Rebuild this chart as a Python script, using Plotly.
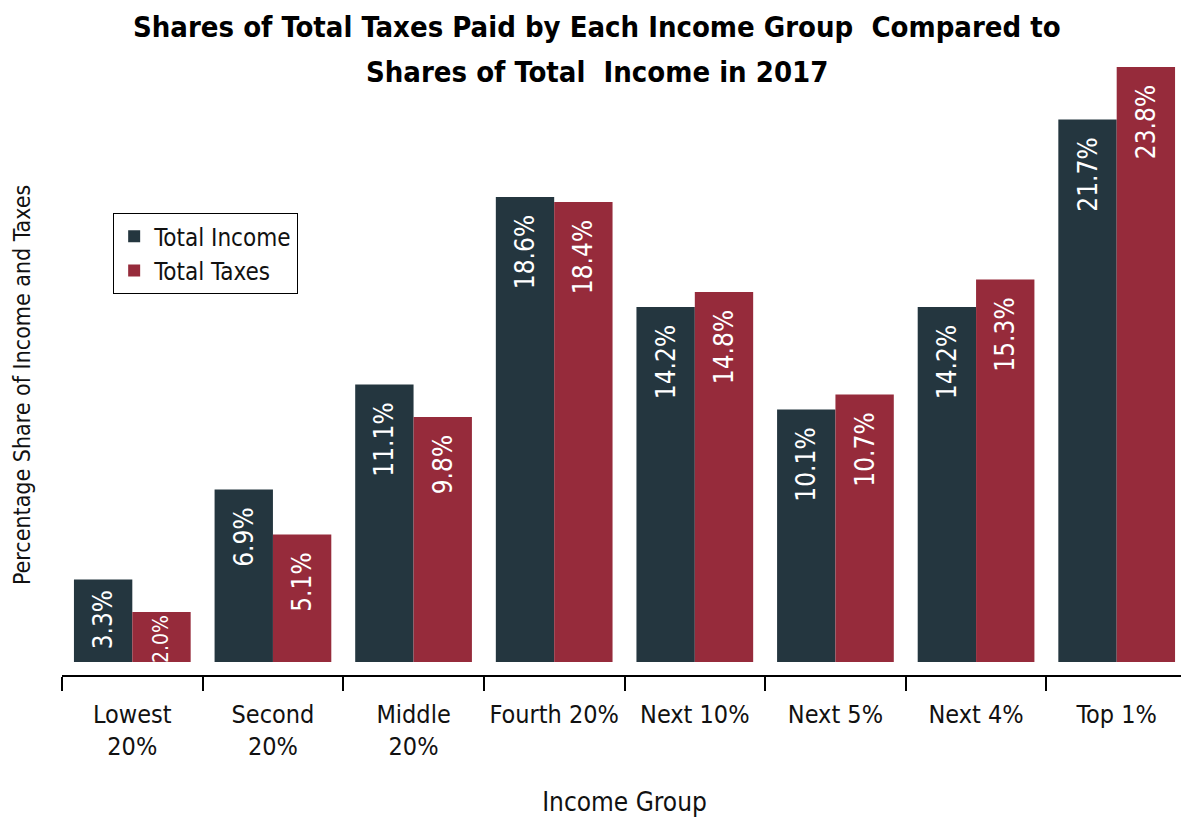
import plotly.graph_objects as go

# income groups and shares (%)
groups = ["Lowest<br>20%", "Second<br>20%", "Middle<br>20%", "Fourth 20%",
          "Next 10%", "Next 5%", "Next 4%", "Top 1%"]
income = [3.3, 6.9, 11.1, 18.6, 14.2, 10.1, 14.2, 21.7]
taxes = [2.0, 5.1, 9.8, 18.4, 14.8, 10.7, 15.3, 23.8]

font_main = "DejaVu Sans Condensed, DejaVu Sans, sans-serif"


def labels(vals):
    # small bars get less padding from the top
    out = []
    for v in vals:
        n = 0 if v < 2.5 else (1 if v < 4 else 2)
        out.append(f"{v:.1f}%" + "\u00a0" * n)
    return out


def sizes(vals):
    # the shortest bar needs a smaller label to fit
    return [21 if v < 2.5 else 26 for v in vals]


fig = go.Figure()

fig.add_trace(go.Bar(x=groups, y=income, name="Total Income",
                     marker=dict(color="#24363f", line=dict(width=0)),
                     text=labels(income),
                     textposition="inside", insidetextanchor="end",
                     textangle=-90, constraintext="none",
                     textfont=dict(color="white", size=sizes(income), family=font_main)))

fig.add_trace(go.Bar(x=groups, y=taxes, name="Total Taxes",
                     marker=dict(color="#962b3b", line=dict(width=0)),
                     text=labels(taxes),
                     textposition="inside", insidetextanchor="end",
                     textangle=-90, constraintext="none",
                     textfont=dict(color="white", size=sizes(taxes), family=font_main)))

# two-line title, placed line by line for wider spacing
title_lines = ["Shares of Total Taxes Paid by Each Income Group  Compared to",
               "Shares of Total  Income in 2017"]
for line, shift in zip(title_lines, [35, -10]):
    fig.add_annotation(text=f"<b>{line}</b>", xref="paper", yref="paper",
                       x=0.4756, y=1.0, yshift=shift,
                       xanchor="center", yanchor="middle", showarrow=False,
                       font=dict(size=29, color="#000", family=font_main))

fig.add_annotation(text="Percentage Share of Income and Taxes",
                   xref="paper", yref="paper", x=0, xshift=-40, y=0.473,
                   xanchor="center", yanchor="middle", textangle=-90,
                   showarrow=False,
                   font=dict(size=23, color="#111", family=font_main))

fig.update_layout(
    barmode="group", bargap=0.17, bargroupgap=0,
    xaxis=dict(showline=True, linecolor="#000", linewidth=1.5,
               ticks="outside", tickson="boundaries", ticklen=14,
               tickcolor="#000", tickwidth=1.5, automargin=False,
               ticklabelstandoff=16, tickangle=0,
               tickfont=dict(size=25, color="#111", family=font_main),
               title=dict(text="Income Group", standoff=36,
                          font=dict(size=26, color="#111", family=font_main))),
    yaxis=dict(range=[-0.52, 24.0], showgrid=False, zeroline=False,
               showticklabels=False, showline=False, automargin=False),
    legend=dict(x=0.0453, y=0.7537, xanchor="left", yanchor="top",
                bordercolor="#000", borderwidth=1.2, bgcolor="white",
                font=dict(size=24, color="#111", family=font_main),
                itemwidth=30, entrywidth=205, tracegroupgap=0),
    plot_bgcolor="white", paper_bgcolor="white",
    # page body has an 8px margin, so the figure is 8px smaller each way
    width=1181, height=809,
    margin=dict(l=54, r=2, t=54, b=142),
)

fig.write_html("out.html")
